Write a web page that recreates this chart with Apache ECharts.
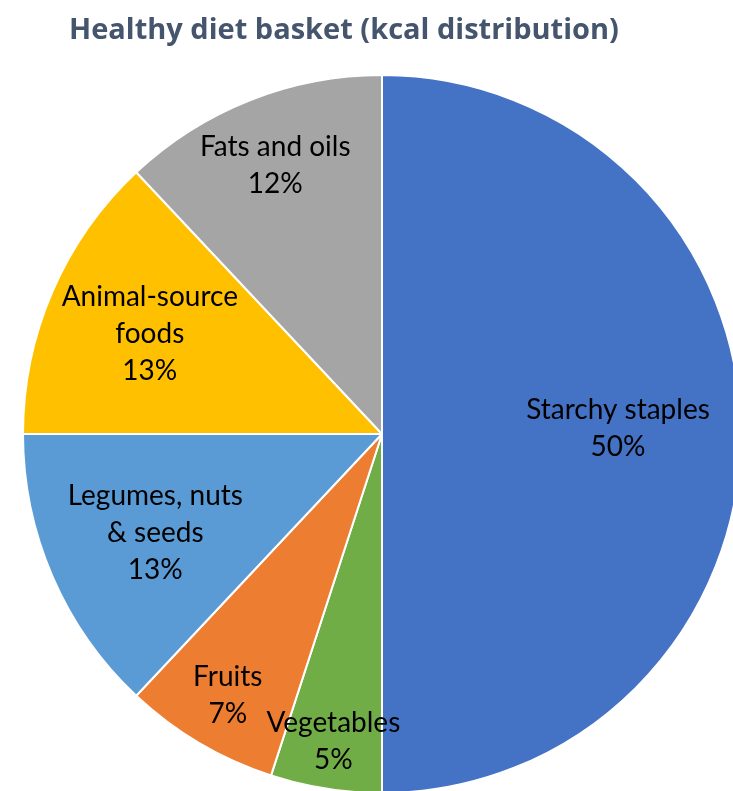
<!DOCTYPE html>
<html>
<head>
<meta charset="utf-8">
<script src="https://cdn.jsdelivr.net/npm/echarts@6/dist/echarts.min.js"></script>
<style>html,body{margin:0;padding:0;background:#fff;}#c{width:733px;height:791px;}</style>
</head>
<body>
<div id="c"></div>
<script>
const categories = ['Starchy staples', 'Vegetables', 'Fruits', 'Legumes, nuts\n& seeds', 'Animal-source\nfoods', 'Fats and oils'];
const values = [50, 5, 7, 13, 13, 12];
const colors = ['#4472C4', '#70AD47', '#ED7D31', '#5B9BD5', '#FFC000', '#A5A5A5'];
// radial distance of each label centre from the pie centre (px) and small vertical nudge
const labelDist = [233, 308, 300, 244, 250, 287];
const labelNudgeY = [-6, 0, 1, 1, 0, 1];

const R = 359;
const total = values.reduce((a, b) => a + b, 0);
const midAngles = [];
let acc = 0;
values.forEach(v => { midAngles.push((acc + v / 2) / total * 2 * Math.PI); acc += v; });

const chart = echarts.init(document.getElementById('c'));
chart.setOption({
  animation: false,
  title: {
    text: 'Healthy diet basket (kcal distribution)',
    left: 64,
    top: 11,
    textStyle: { fontFamily: 'Open Sans', fontWeight: 'bold', fontSize: 29, color: '#45556E' }
  },
  series: [{
    type: 'pie',
    center: [382, 434],
    radius: [0, R],
    startAngle: 90,
    clockwise: true,
    avoidLabelOverlap: false,
    itemStyle: { borderColor: '#fff', borderWidth: 2 },
    label: {
      show: true,
      position: 'inside',
      rotate: 0,
      formatter: p => p.name + '\n' + p.value + '%',
      fontFamily: 'Lato',
      fontSize: 28,
      lineHeight: 37,
      color: '#000',
      align: 'center'
    },
    labelLine: { show: false },
    labelLayout: function (p) {
      const i = p.dataIndex;
      const t = midAngles[i];
      const d = labelDist[i] - R / 2;
      return { dx: d * Math.sin(t), dy: -d * Math.cos(t) + labelNudgeY[i] };
    },
    data: categories.map((c, i) => ({ name: c, value: values[i], itemStyle: { color: colors[i] } }))
  }]
});
</script>
</body>
</html>
